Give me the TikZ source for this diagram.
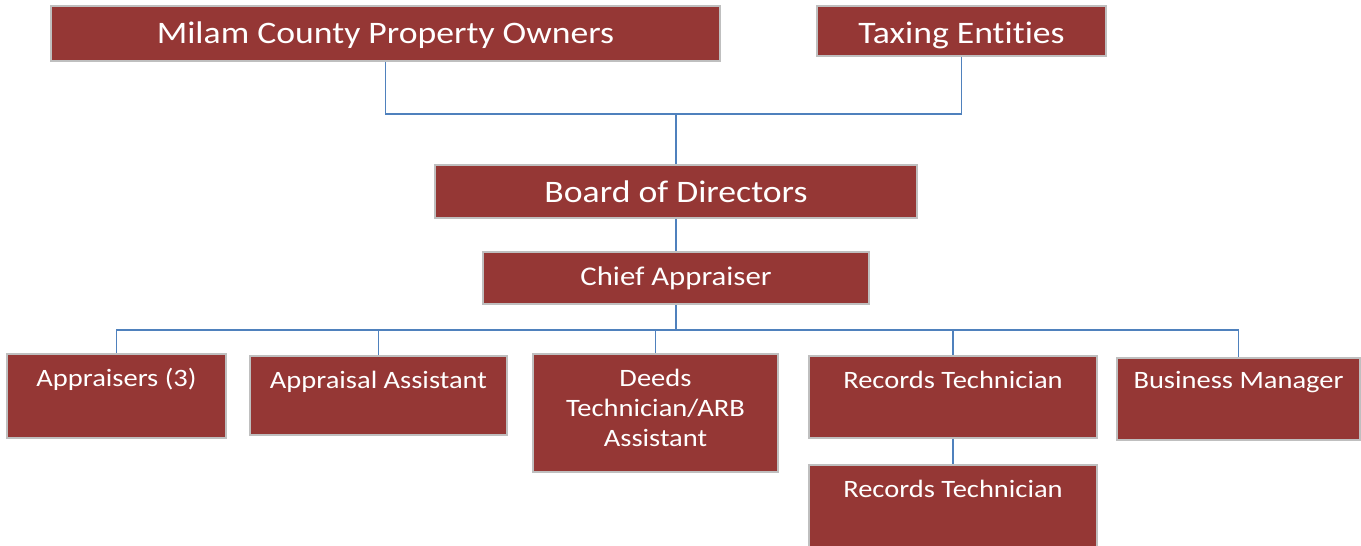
\documentclass[tikz,border=0pt]{standalone}
\usepackage{fontspec}
\setmainfont{Carlito}[FakeStretch=1.14,Ligatures=NoCommon]
\definecolor{boxred}{HTML}{953735}
\definecolor{boxline}{HTML}{BFBFBF}
\definecolor{conn}{HTML}{4F81BD}
\begin{document}
\begin{tikzpicture}[x=1pt,y=-1pt,
  box/.style={draw=boxline, line width=1.5pt, fill=boxred, text=white, inner sep=0pt, align=center},
  link/.style={draw=conn, line width=1.5pt},
  big/.style={font=\fontsize{31.3}{37}\selectfont},
  mid/.style={font=\fontsize{27}{32}\selectfont},
  small/.style={font=\fontsize{25}{30}\selectfont}]
\useasboundingbox (0,0) rectangle (1361,546);

% top level
\node[box,big,minimum width=669pt,text height=37pt,text depth=18pt] (owners) at (385.5,33.5) {Milam County Property Owners};
\node[box,big,minimum width=289pt,text height=37pt,text depth=13pt] (taxing) at (961.5,31) {Taxing Entities};
\node[box,big,minimum width=482pt,minimum height=53pt] (board) at (676,191.5) {Board of Directors};
\node[box,mid,minimum width=386pt,minimum height=52pt] (chief) at (676,278) {Chief Appraiser};

% staff
\node[box,small,minimum width=219pt,text height=32pt,text depth=52pt] (appr) at (116.5,396) {Appraisers (3)};
\node[box,small,minimum width=257pt,text height=32pt,text depth=47pt] (assist) at (378.5,395.5) {Appraisal Assistant};
\node[box,small,minimum width=245pt,text height=92pt,text depth=26pt] (deeds) at (655.5,413) {Deeds\\Technician/ARB\\Assistant};
\node[box,small,minimum width=288pt,text height=32pt,text depth=50pt] (rec) at (953,397) {Records Technician};
\node[box,small,minimum width=243pt,text height=30pt,text depth=52pt] (bus) at (1238.5,399) {Business Manager};
\node[box,small,minimum width=288pt,text height=32pt,text depth=52pt] (rec2) at (953,507) {Records Technician};

% connectors
\coordinate (j1) at (board.north |- 0,114);
\coordinate (j2) at (chief.south |- 0,330);
\draw[link] (owners.south) |- (j1) -| (taxing.south);
\draw[link] (j1) -- (board.north);
\draw[link] (board.south) -- (chief.north);
\draw[link] (chief.south) -- (j2);
\draw[link] (j2) -| (appr.north);
\draw[link] (j2) -| (assist.north);
\draw[link] (j2) -| (deeds.north);
\draw[link] (j2) -| (rec.north);
\draw[link] (j2) -| (bus.north);
\draw[link] (rec.south) -- (rec2.north);
\end{tikzpicture}
\end{document}
